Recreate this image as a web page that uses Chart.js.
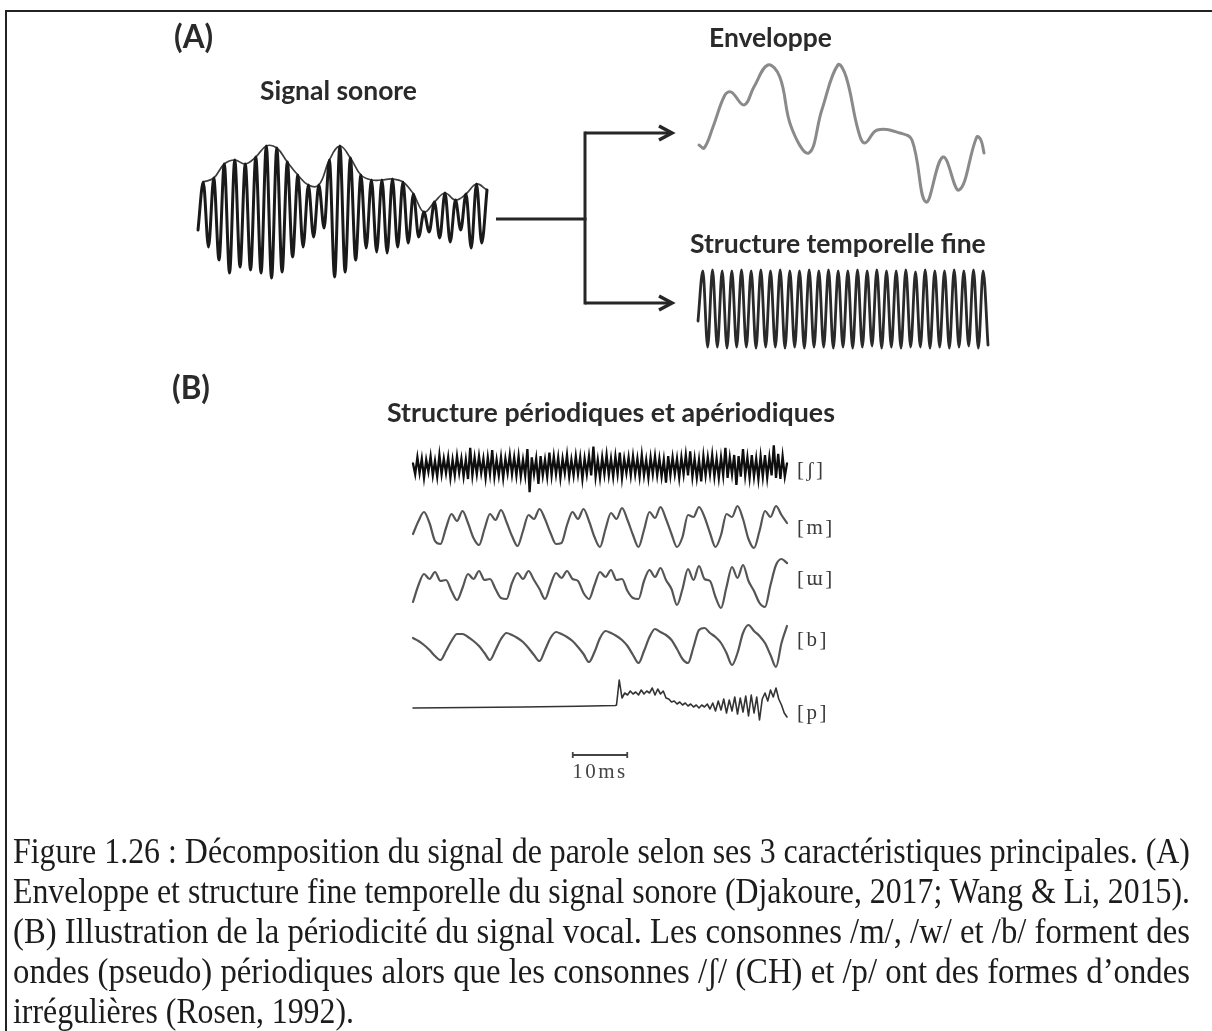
<!DOCTYPE html>
<html lang="fr">
<head>
<meta charset="utf-8">
<title>Décomposition du signal de parole</title>
<script src="https://cdn.jsdelivr.net/npm/chart.js@4.4.1/dist/chart.umd.min.js"></script>
<style>
  html, body { margin: 0; padding: 0; background: #fff; }
  body { width: 1212px; height: 1031px; position: relative; overflow: hidden; }
  .frame { position: absolute; left: 5px; top: 10px; width: 1400px; height: 1200px;
           border-left: 2px solid #222; border-top: 2px solid #222; }
  #figure { position: absolute; left: 0; top: 0; width: 1212px; height: 800px; filter: blur(0.7px); }
  #caption { position: absolute; left: 0; top: 0; width: 1212px; height: 1031px; }
  .lbl { position: absolute; white-space: nowrap; line-height: 1; }
  .capline { position: absolute; white-space: nowrap; line-height: 1; transform-origin: 0 0;
             font-family: "Liberation Serif", "Times New Roman", serif; color: #1c1c1c; }
  .probe { display: inline-block; width: 0; height: 0; }
</style>
</head>
<body>
<div class="frame"></div>
<div id="figure"></div>
<div id="caption"></div>
<script>
// ---------------- Panel A ----------------
// Sound wave: successive half-cycle extrema (peak / trough), amplitude units.
const sonore = [-10, 38, -27, 42, -40, 56, -53, 60, -47, 56, -50, 63, -53, 74, -58, 72,
  -52, 58, -37, 45, -27, 35, -17, 35, -8, 60, -57, 74, -52, 62, -40, 45, -28, 40, -32, 40,
  -33, 41, -27, 38, -23, 26, -17, 8, -12, 18, -18, 27, -22, 20, -10, 26, -28, 36, -23, 30];

// Extracted envelope, on the same time base as the sound wave.
const envTime  = [0, 1.0, 2.7, 5.0, 6.2, 8.7, 10.6, 13.3, 15.6, 17.8, 21.2, 23.7, 26.8,
  28.4, 30.7, 32.0, 34.4, 38.8, 41.1, 43.8, 47.1, 50.2, 53.6, 54.4, 55.0];
const envLevel = [65, 62, 83, 115, 118, 105, 123, 145, 133, 83, 57, 100, 145,
  133, 80, 67, 80, 77, 70, 8, 53, 20, 73, 70, 57];

// Temporal fine structure: half-cycle extrema of the carrier.
const fine = [-12, 38, -38, 39, -38, 38, -39, 38, -38, 39, -38, 38, -39, 39, -38, 38,
  -38, 39, -39, 38, -38, 38, -39, 39, -38, 38, -38, 39, -39, 38, -38, 38, -39, 39, -38,
  38, -37, 39, -39, 38, -38, 38, -39, 39, -38, 37, -38, 39, -39, 38, -38, 38, -39, 39,
  -38, 38, -37, 39, -39, 38, -36];

// ---------------- Panel B (time in ms) ----------------
const rowDurationMs = 68;

// [ʃ] fricative noise, sampled every 0.4 ms
const shStepMs = 0.4;
const shNoise = [3, -6, 8, -5, 7, -9, 6, -4, 9, -7, 5, -8, 10, -6, 7, -5, 8, -9, 6, -7,
  9, -5, 7, -8, 6, -10, 16, -7, 8, -6, 9, -5, 7, -9, 8, -6, 14, -8, 6, -7,
  8, -9, 7, -5, 10, -6, 8, -7, 9, -8, 6, -7, 15, -21, 8, -6, 7, -14, 9, -7,
  6, -8, 12, -7, 9, -6, 8, -9, 7, -5, 10, -8, 6, -7, 9, -6, 8, -10, 7, -6,
  9, -7, 17, -8, 6, -9, 8, -6, 10, -7, 7, -8, 9, -6, 12, -9, 7, -5, 8, -7,
  9, -6, 7, -8, 10, -7, 6, -9, 8, -6, 9, -7, 7, -8, 6, -13, 9, -7, 8, -6,
  7, -9, 8, -6, 10, -7, 13, -8, 7, -9, 6, -12, 9, -7, 8, -6, 10, -8, 7, -9,
  8, -7, 16, -9, 8, -6, 10, -15, 9, -8, 15, -7, 8, -9, 10, -8, 7, -10, 9, -8,
  10, -9, 8, -7, 18, -9, 11, -10, 9, -8, 3];

// Periodic consonants, sampled every 1 ms
const periodicStepMs = 1;
const mWave = [-9, 4, 13, 2, -16, -19, -3, 11, 4, 14, 2, -13, -20, -4, 11, 5, 15, 3, -11, -21,
  -6, 10, 6, 16, 6, -8, -19, -18, 0, 13, 6, 16, 4, -12, -22, -4, 12, 6, 17, 5,
  -10, -22, -5, 13, 7, 18, 6, -9, -22, -12, 10, 8, 18, 8, -8, -22, -10, 11, 8, 19,
  6, -14, -23, -6, 14, 8, 19, 10, 2];
const wWave = [-19, -2, 9, 4, 11, 2, 3, -8, -17, -5, 9, 4, 12, 3, 4, -6, -15, -16, 0, 10,
  4, 12, 3, -6, -16, -2, 10, 5, 12, 4, 2, -10, -16, -2, 11, 6, 13, 3, 4, -8,
  -15, -16, 2, 13, 6, 15, 3, -6, -22, -6, 14, 3, 17, 4, 2, -14, -25, -4, 16, 5,
  18, 2, -8, -20, -24, -2, 18, 24, 20];
const bWave = [7, 4, 0, -5, -11, -15, -6, 4, 11, 11, 8, 4, -1, -8, -15, -5, 6, 12, 10, 7,
  3, -3, -10, -16, -5, 7, 13, 11, 8, 4, -2, -9, -17, -7, 7, 14, 12, 9, 5, -1,
  -10, -18, -6, 8, 16, 13, 10, 5, -4, -14, -18, -2, 15, 17, 12, 8, 2, -8, -20, -8,
  12, 20, 14, 9, 2, -10, -22, 2, 19];

// [p]: silent closure, then the release burst sampled every 0.5 ms
const pClosureMs = [0, 10, 20, 30, 36.8];
const pClosure   = [-1, -0.5, 0, 0.8, 1.5];
const pBurstStartMs = 37, pBurstStepMs = 0.5;
const pBurst = [2, 27, 9, 14, 12, 16, 13, 15, 12, 17, 13, 16, 14, 19, 12, 18, 13, 16, 9, 8,
  5, 6, 3, 5, 2, 4, 1, 3, 0, 2, -1, 2, 0, 3, -2, 4, -4, 6, -3, 8,
  -6, 7, -4, 10, -7, 9, -5, 11, -9, 12, -6, 10, -13, 8, 14, 6, 17, 10, 19, 8,
  2, -6, -10];

const rowLabels = ['[ʃ]', '[m]', '[ɯ]', '[b]', '[p]'];
const scaleBarMs = 10, scaleBarStartMs = 29;

// ---------------- helpers ----------------
const fig = document.getElementById('figure');
const cap = document.getElementById('caption');

function pts(xs, ys) { return ys.map((y, i) => ({ x: xs(i), y })); }

function line(data, color, width, opts = {}) {
  return Object.assign({ data, borderColor: color, borderWidth: width, pointRadius: 0,
    fill: false, tension: 0, clip: false, borderJoinStyle: 'round', borderCapStyle: 'round' }, opts);
}

function plot(ext, pad, xRange, yRange, datasets) {
  const c = document.createElement('canvas');
  const w = ext.right - ext.left + 2 * pad, h = ext.bottom - ext.top + 2 * pad;
  c.width = w; c.height = h;
  c.style.cssText = `position:absolute;left:${ext.left - pad}px;top:${ext.top - pad}px;width:${w}px;height:${h}px`;
  fig.appendChild(c);
  return new Chart(c, {
    type: 'line',
    data: { datasets },
    options: {
      responsive: false, animation: false, devicePixelRatio: 1, events: [],
      layout: { padding: pad },
      plugins: { legend: { display: false }, tooltip: { enabled: false }, title: { display: false } },
      scales: {
        x: { type: 'linear', display: false, min: xRange[0], max: xRange[1] },
        y: { type: 'linear', display: false, min: yRange[0], max: yRange[1] }
      }
    }
  });
}

function label(parent, text, o) {
  const el = document.createElement('div');
  el.className = 'lbl';
  el.style.fontFamily = o.family;
  el.style.fontWeight = o.weight || 'normal';
  el.style.color = o.color || '#222';
  el.style.fontSize = o.size + 'px';
  if (o.spacing) el.style.letterSpacing = o.spacing + 'px';
  el.textContent = text;
  const probe = document.createElement('span');
  probe.className = 'probe';
  el.appendChild(probe);
  parent.appendChild(el);
  if (o.width) {
    const w0 = el.getBoundingClientRect().width;
    el.style.fontSize = (o.size * o.width / w0) + 'px';
  }
  const w = el.getBoundingClientRect().width;
  const left = o.cx !== undefined ? o.cx - w / 2 : o.x;
  el.style.left = left + 'px';
  el.style.top = (o.baseline - probe.offsetTop) + 'px';
  return el;
}

// ---------------- Panel A drawing ----------------
const sonoreExt = { left: 198, right: 487, top: 140, bottom: 300 };
const peaks = sonore.map((v, i) => ({ x: i, y: v })).filter(p => p.x % 2 === 1);
plot(sonoreExt, 6, [0, sonore.length - 1], [-80, 80], [
  line(pts(i => i, sonore), '#1a1a1a', 3, { cubicInterpolationMode: 'monotone' }),
  line(peaks, '#3e3e3e', 1.7, { tension: 0.4 })
]);

plot({ left: 699, right: 984, top: 60, bottom: 210 }, 6, [0, 55], [0, 150], [
  line(envTime.map((t, i) => ({ x: t, y: envLevel[i] })), '#8a8a8a', 3, { tension: 0.4 })
]);

plot({ left: 698, right: 988, top: 264, bottom: 354 }, 6, [0, fine.length - 1], [-45, 45], [
  line(pts(i => i, fine), '#2a2a2a', 2.8, { cubicInterpolationMode: 'monotone' })
]);

// Connectors: sound wave -> envelope / fine structure
const svgNS = 'http://www.w3.org/2000/svg';
const svg = document.createElementNS(svgNS, 'svg');
svg.setAttribute('width', '1212'); svg.setAttribute('height', '800');
svg.style.cssText = 'position:absolute;left:0;top:0';
svg.innerHTML = `
  <g stroke="#262626" stroke-width="3" fill="none" stroke-linecap="butt">
    <line x1="496" y1="219" x2="586.5" y2="219"/>
    <line x1="585" y1="131.5" x2="585" y2="304.5"/>
    <line x1="585" y1="133" x2="670" y2="133"/>
    <line x1="585" y1="303" x2="670" y2="303"/>
    <polyline points="659,126 672,133 659,140" stroke-width="3.5" stroke-linejoin="miter"/>
    <polyline points="659,296 672,303 659,310" stroke-width="3.5" stroke-linejoin="miter"/>
  </g>`;
fig.appendChild(svg);

const boldFont = 'Lato, "Open Sans", sans-serif';
const panelB = label(fig, '(B)', { x: 172, baseline: 399, size: 22, width: 38, family: boldFont, weight: 700, color: '#2a2a2a' });
const panelSize = parseFloat(panelB.style.fontSize);
label(fig, '(A)', { x: 174, baseline: 48, size: panelSize, family: boldFont, weight: 700, color: '#2a2a2a' });
label(fig, 'Signal sonore', { x: 260, baseline: 100, size: 22, width: 157, family: boldFont, weight: 700, color: '#2a2a2a' });
label(fig, 'Enveloppe', { x: 709, baseline: 47, size: 22, width: 123, family: boldFont, weight: 700, color: '#2a2a2a' });
label(fig, 'Structure temporelle fine', { x: 690, baseline: 253, size: 22, width: 296, family: boldFont, weight: 700, color: '#2a2a2a' });
label(fig, 'Structure périodiques et apériodiques', { x: 387, baseline: 422, size: 22, width: 448, family: boldFont, weight: 700, color: '#2a2a2a' });

// ---------------- Panel B drawing ----------------
const rowLeft = 413, rowRight = 787;
const rowCenters = [467, 525, 583, 645, 707];
function rowExt(k) { return { left: rowLeft, right: rowRight, top: rowCenters[k] - 30, bottom: rowCenters[k] + 30 }; }
const xr = [0, rowDurationMs], yr = [-30, 30];

plot(rowExt(0), 4, xr, [-25, 25], [line(pts(i => i * shStepMs, shNoise), '#0e0e0e', 2.3, { borderJoinStyle: 'miter' })]);
plot(rowExt(1), 4, xr, yr, [line(pts(i => i * periodicStepMs, mWave), '#555', 2.2, { cubicInterpolationMode: 'monotone' })]);
plot(rowExt(2), 4, xr, yr, [line(pts(i => i * periodicStepMs, wWave), '#555', 2.2, { cubicInterpolationMode: 'monotone' })]);
plot(rowExt(3), 4, xr, yr, [line(pts(i => i * periodicStepMs, bWave), '#555', 2.2, { cubicInterpolationMode: 'monotone' })]);
const pData = pClosureMs.map((t, i) => ({ x: t, y: pClosure[i] }))
  .concat(pts(i => pBurstStartMs + i * pBurstStepMs, pBurst));
plot(rowExt(4), 4, xr, yr, [line(pData, '#333', 1.6)]);

// 10 ms scale bar on the same time axis
plot({ left: rowLeft, right: rowRight, top: 745, bottom: 765 }, 4, xr, [-10, 10], [
  line([{ x: scaleBarStartMs, y: 0 }, { x: scaleBarStartMs + scaleBarMs, y: 0 }], '#444', 1.8,
    { pointRadius: 3, pointStyle: 'line', rotation: 90, pointBorderColor: '#444', pointBorderWidth: 1.8, borderCapStyle: 'butt' })
]);
const pxPerMs = (rowRight - rowLeft) / rowDurationMs;
const typeFont = '"Liberation Serif", "DejaVu Serif", serif';
label(fig, scaleBarMs + 'ms', { cx: rowLeft + (scaleBarStartMs + scaleBarMs / 2) * pxPerMs, baseline: 778, size: 21, family: typeFont, color: '#444', spacing: 2.5 });

const labelBaselines = [476, 534, 585, 646, 719];
rowLabels.forEach((t, k) => label(fig, t, { x: 797, baseline: labelBaselines[k], size: 21, family: typeFont, color: '#3a3a3a', spacing: 2.5 }));

// ---------------- Caption ----------------
const captionLines = [
  'Figure 1.26 : Décomposition du signal de parole selon ses 3 caractéristiques principales. (A)',
  'Enveloppe et structure fine temporelle du signal sonore (Djakoure, 2017; Wang & Li, 2015).',
  '(B) Illustration de la périodicité du signal vocal. Les consonnes /m/, /w/ et /b/ forment des',
  'ondes (pseudo) périodiques alors que les consonnes /ʃ/ (CH) et /p/ ont des formes d’ondes',
  'irrégulières (Rosen, 1992).'
];
const capLeft = 13, capRight = 1190, capFirstBaseline = 863, capLeading = 40, capSize = 36;
const target = capRight - capLeft;
const els = captionLines.map(t => {
  const el = document.createElement('div');
  el.className = 'capline';
  el.style.fontSize = capSize + 'px';
  el.textContent = t;
  const probe = document.createElement('span');
  probe.className = 'probe';
  el.appendChild(probe);
  cap.appendChild(el);
  return { el, probe, w: el.getBoundingClientRect().width };
});
const sxMin = target / Math.max(...els.slice(0, 4).map(e => e.w));
els.forEach((e, k) => {
  e.el.style.left = capLeft + 'px';
  let sx = sxMin;
  if (k < 4) {
    // condense each justified line, then let the word spaces take up what remains
    sx = Math.min(target / e.w, sxMin * 1.05);
    e.el.style.whiteSpace = 'normal';
    e.el.style.width = (target / sx) + 'px';
    e.el.style.textAlign = 'justify';
    e.el.style.textAlignLast = 'justify';
  }
  e.el.style.transform = `scaleX(${sx})`;
  e.el.style.top = (capFirstBaseline + k * capLeading - e.probe.offsetTop) + 'px';
});
</script>
</body>
</html>
